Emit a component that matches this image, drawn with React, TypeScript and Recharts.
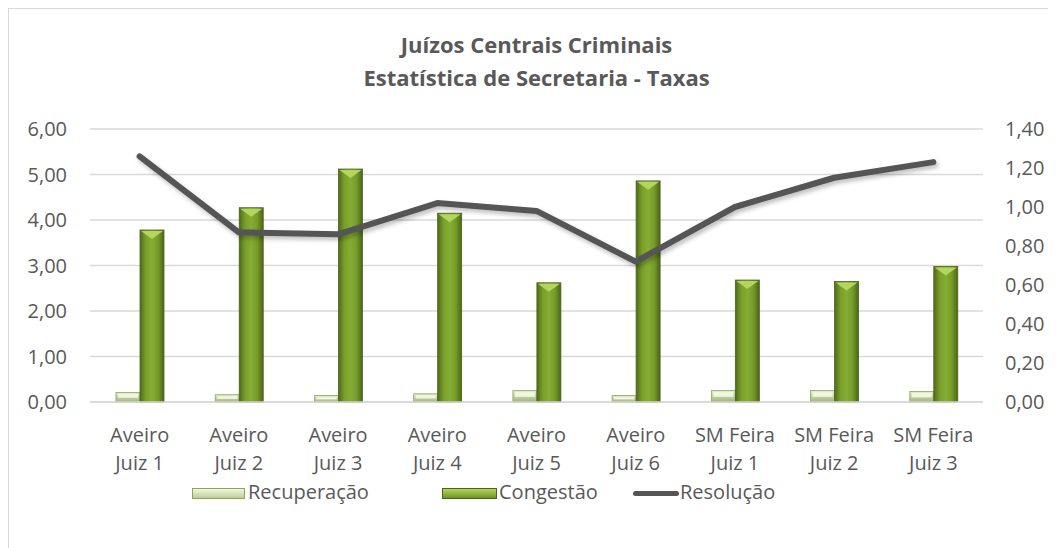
import { ComposedChart, Bar, Line, XAxis, YAxis, CartesianGrid } from 'recharts'

const categorias = ['Aveiro Juiz 1', 'Aveiro Juiz 2', 'Aveiro Juiz 3', 'Aveiro Juiz 4', 'Aveiro Juiz 5', 'Aveiro Juiz 6', 'SM Feira Juiz 1', 'SM Feira Juiz 2', 'SM Feira Juiz 3']
const recuperacao = [0.21, 0.16, 0.14, 0.18, 0.25, 0.14, 0.25, 0.25, 0.23]
const congestao = [3.78, 4.27, 5.12, 4.15, 2.62, 4.86, 2.68, 2.65, 2.98]
const resolucao = [1.26, 0.87, 0.86, 1.02, 0.98, 0.72, 1.0, 1.15, 1.23]
const ticksEsq = [0, 1, 2, 3, 4, 5, 6]
const ticksDir = [0, 0.2, 0.4, 0.6, 0.8, 1.0, 1.2, 1.4]

const data = categorias.map((name, i) => ({
  name,
  Recuperação: recuperacao[i],
  Congestão: congestao[i],
  Resolução: resolucao[i]
}))

const FONT = '"Open Sans", sans-serif'
const TXT = '#595959'
const fmt = (v: number) => v.toFixed(2).replace('.', ',')

function CatTick({ x, y, payload }: any) {
  const s: string = payload.value
  const k = s.indexOf('Juiz')
  return (
    <text x={x} y={y} textAnchor="middle" fill={TXT} fontSize={20} fontFamily={FONT}>
      <tspan x={x} dy={40}>{s.slice(0, k).trim()}</tspan>
      <tspan x={x} dy={28}>{s.slice(k)}</tspan>
    </text>
  )
}

function CongShape({ x, y, width, height }: any) {
  if (!height || height <= 0) return null
  return (
    <g>
      <rect x={x} y={y} width={width} height={height} fill="url(#gCong)" stroke="#4b611c" strokeWidth={0.8} />
      <polygon points={`${x + 1},${y + 1} ${x + width - 1},${y + 1} ${x + width / 2},${y + 9}`} fill="#b2d65e" />
    </g>
  )
}

function RecShape({ x, y, width, height }: any) {
  if (!height || height <= 0) return null
  return (
    <g>
      <rect x={x} y={y} width={width} height={height} fill="url(#gRec)" stroke="#8da35f" strokeWidth={0.8} />
      <rect x={x + 2} y={y + 1.5} width={width - 4} height={Math.max(height / 2 - 1, 1)} fill="#f1f6e2" />
    </g>
  )
}

export default function App() {
  return (
    <div style={{ position: 'relative', width: 1040, height: 539, border: '1px solid #d9d9d9', background: '#fff', fontFamily: FONT }}>
      <style>{`.linha-res .recharts-line-curve { filter: drop-shadow(2px 3px 2px rgba(0,0,0,0.25)); }`}</style>
      <svg width={0} height={0} style={{ position: 'absolute' }}>
        <defs>
          <linearGradient id="gCong" x1="0" y1="0" x2="1" y2="0">
            <stop offset="0%" stopColor="#4f6b1b" />
            <stop offset="25%" stopColor="#7a9f2a" />
            <stop offset="50%" stopColor="#86ad33" />
            <stop offset="75%" stopColor="#779b29" />
            <stop offset="100%" stopColor="#4a651a" />
          </linearGradient>
          <linearGradient id="gRec" x1="0" y1="0" x2="0" y2="1">
            <stop offset="0%" stopColor="#e6efcf" />
            <stop offset="100%" stopColor="#9fb477" />
          </linearGradient>
        </defs>
      </svg>
      <div style={{ position: 'absolute', left: 81, width: 893, top: 19, textAlign: 'center', color: TXT, fontWeight: 700, fontSize: 22, lineHeight: '33px' }}>
        <div>Juízos Centrais Criminais</div>
        <div>Estatística de Secretaria - Taxas</div>
      </div>
      <ComposedChart width={1040} height={539} data={data} margin={{ top: 120, right: 0, left: 0, bottom: 66 }} barGap={0} barSize={24}>
        <CartesianGrid yAxisId="esq" vertical={false} stroke="#d9d9d9" strokeWidth={1.5} />
        <XAxis dataKey="name" height={80} tickLine={false} tickSize={0} tickMargin={0} axisLine={{ stroke: '#d9d9d9', strokeWidth: 1.5 }} tick={<CatTick />} interval={0} />
        <YAxis yAxisId="esq" orientation="left" width={81} domain={[0, 6]} ticks={ticksEsq} tickFormatter={fmt} axisLine={false} tickLine={false} tickSize={0} tickMargin={23} tick={{ fill: TXT, fontSize: 20, fontFamily: FONT }} />
        <YAxis yAxisId="dir" orientation="right" width={66} domain={[0, 1.4]} ticks={ticksDir} tickFormatter={fmt} axisLine={false} tickLine={false} tickSize={0} tickMargin={22} tick={{ fill: TXT, fontSize: 20, fontFamily: FONT, textAnchor: 'start' }} />
        <Bar yAxisId="esq" dataKey="Recuperação" fill="#d7e4bd" shape={<RecShape />} isAnimationActive={false} />
        <Bar yAxisId="esq" dataKey="Congestão" fill="#7fa32b" shape={<CongShape />} isAnimationActive={false} />
        <Line yAxisId="dir" className="linha-res" dataKey="Resolução" stroke="#555555" strokeWidth={6} strokeLinecap="round" strokeLinejoin="round" dot={false} activeDot={false} type="linear" isAnimationActive={false} />
      </ComposedChart>
      <div style={{ position: 'absolute', top: 472, left: 0, width: 1040, height: 24, color: TXT, fontSize: 20 }}>
        <div style={{ position: 'absolute', left: 183, top: 7, width: 53, height: 11, boxSizing: 'border-box', border: '1px solid #8da35f', background: 'linear-gradient(#f1f6e2, #bccf94)' }} />
        <div style={{ position: 'absolute', left: 239, top: -3, lineHeight: '28px' }}>{'Recuperação'}</div>
        <div style={{ position: 'absolute', left: 433, top: 7, width: 55, height: 11, boxSizing: 'border-box', border: '1px solid #4b611c', background: 'linear-gradient(#b2d65e, #6f9424)' }} />
        <div style={{ position: 'absolute', left: 490, top: -3, lineHeight: '28px' }}>{'Congestão'}</div>
        <div style={{ position: 'absolute', left: 624, top: 10, width: 46, height: 5, borderRadius: 3, background: '#555555' }} />
        <div style={{ position: 'absolute', left: 671, top: -3, lineHeight: '28px' }}>{'Resolução'}</div>
      </div>
    </div>
  )
}
